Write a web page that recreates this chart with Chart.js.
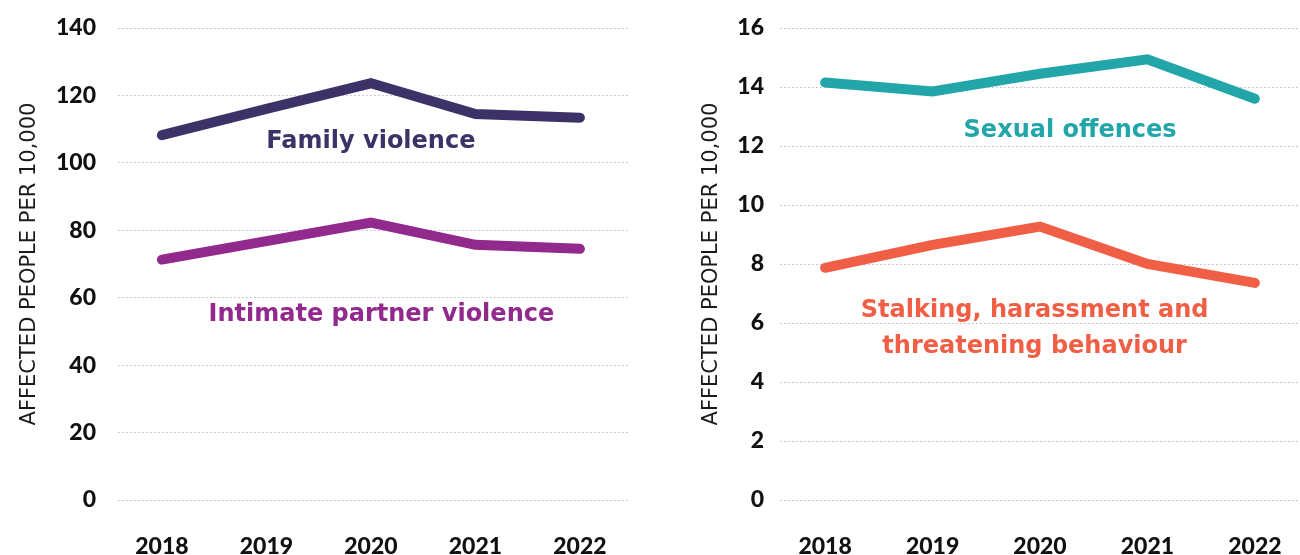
<!DOCTYPE html>
<html>
<head>
<meta charset="utf-8">
<script src="https://cdn.jsdelivr.net/npm/chart.js@4"></script>
<style>
  html, body { margin: 0; padding: 0; background: #fff; }
  .row { display: flex; width: 1300px; height: 555px; }
  canvas { display: block; }
</style>
</head>
<body>
<div class="row">
  <canvas id="leftChart" width="650" height="555"></canvas>
  <canvas id="rightChart" width="650" height="555"></canvas>
</div>
<script>
// data
const years = [2018, 2019, 2020, 2021, 2022];
const familyViolence = [108.2, 116.0, 123.6, 114.5, 113.4];
const intimatePartner = [71.3, 76.8, 82.3, 75.7, 74.5];
const sexualOffences = [14.15, 13.85, 14.45, 14.94, 13.6];
const stalking = [7.87, 8.65, 9.27, 8.0, 7.36];
const leftTicks = [0, 20, 40, 60, 80, 100, 120, 140];
const rightTicks = [0, 2, 4, 6, 8, 10, 12, 14, 16];

const TICK_FONT = "Lato, 'DejaVu Sans', sans-serif";
const LABEL_FONT = "'DejaVu Sans', sans-serif";

// draws the series names next to the lines
const seriesLabels = {
  id: 'seriesLabels',
  afterDatasetsDraw(chart, args, opts) {
    const ctx = chart.ctx;
    const { x, y } = chart.scales;
    ctx.save();
    ctx.font = 'bold 24px ' + LABEL_FONT;
    ctx.textAlign = 'center';
    ctx.textBaseline = 'middle';
    opts.items.forEach(item => {
      ctx.fillStyle = item.color;
      item.lines.forEach((line, i) => {
        ctx.fillText(line, x.getPixelForValue(item.x), y.getPixelForValue(item.y) + i * 36);
      });
    });
    ctx.restore();
  }
};

function toPoints(values) {
  return values.map((v, i) => ({ x: years[i], y: v }));
}

function buildChart(canvasId, datasets, ticks, opts) {
  const ctx = document.getElementById(canvasId).getContext('2d');
  return new Chart(ctx, {
    type: 'line',
    data: {
      datasets: datasets.map(d => ({
        data: toPoints(d.values),
        borderColor: d.color,
        borderWidth: 10,
        borderCapStyle: 'round',
        borderJoinStyle: 'miter',
        pointRadius: 0,
        tension: 0,
        fill: false
      }))
    },
    plugins: [seriesLabels],
    options: {
      responsive: false,
      animation: false,
      layout: { padding: { top: 28, right: opts.padRight, left: 0, bottom: 0 } },
      plugins: {
        legend: { display: false },
        tooltip: { enabled: false },
        seriesLabels: { items: opts.labels }
      },
      scales: {
        x: {
          type: 'linear',
          min: opts.xMin,
          max: opts.xMax,
          afterBuildTicks: scale => { scale.ticks = years.map(v => ({ value: v })); },
          afterFit: scale => { scale.height = 55; },
          grid: {
            display: true,
            drawOnChartArea: false,
            drawTicks: true,
            tickLength: 33,
            tickColor: 'rgba(0,0,0,0)',
            color: 'rgba(0,0,0,0)'
          },
          border: { display: false },
          ticks: {
            padding: 0,
            color: '#111',
            font: { family: TICK_FONT, size: 23, weight: '900' },
            callback: v => String(v)
          }
        },
        y: {
          min: 0,
          max: ticks[ticks.length - 1],
          afterBuildTicks: scale => { scale.ticks = ticks.map(v => ({ value: v })); },
          afterFit: scale => { scale.width = opts.axisWidth; },
          grid: {
            color: '#b9b5cc',
            lineWidth: 1,
            drawTicks: true,
            tickLength: opts.tickGap,
            tickColor: 'rgba(0,0,0,0)'
          },
          border: { display: false, dash: [1.5, 2.5] },
          ticks: {
            padding: 0,
            color: '#111',
            font: { family: TICK_FONT, size: 23, weight: '900' }
          },
          title: {
            display: true,
            text: 'AFFECTED PEOPLE PER 10,000',
            color: '#1a1a1a',
            font: { family: LABEL_FONT, size: 21, weight: 'normal' },
            padding: { top: opts.titlePad, bottom: 0 }
          }
        }
      }
    }
  });
}

buildChart('leftChart', [
  { values: familyViolence, color: '#3d3268' },
  { values: intimatePartner, color: '#92298d' }
], leftTicks, {
  xMin: 2017.58, xMax: 2022.46, axisWidth: 118, padRight: 22, tickGap: 22, titlePad: 17,
  labels: [
    { x: 2020.0, y: 106.2, lines: ['Family violence'], color: '#3d3268' },
    { x: 2020.1, y: 54.9, lines: ['Intimate partner violence'], color: '#92298d' }
  ]
});

buildChart('rightChart', [
  { values: sexualOffences, color: '#22a6aa' },
  { values: stalking, color: '#f05f45' }
], rightTicks, {
  xMin: 2017.58, xMax: 2022.42, axisWidth: 130, padRight: 0, tickGap: 16, titlePad: 49,
  labels: [
    { x: 2020.28, y: 12.52, lines: ['Sexual offences'], color: '#22a6aa' },
    { x: 2019.95, y: 6.43, lines: ['Stalking, harassment and', 'threatening behaviour'], color: '#f05f45' }
  ]
});
</script>
</body>
</html>
